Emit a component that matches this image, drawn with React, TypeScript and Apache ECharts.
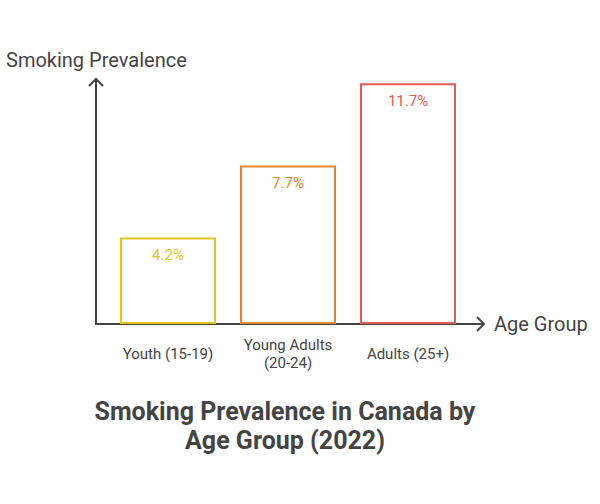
import React, { useEffect, useRef } from "react";
import * as echarts from "echarts";

const categories = ["Youth (15-19)", "Young Adults\n(20-24)", "Adults (25+)"];
const values = [4.2, 7.7, 11.7];
const colors = ["#E2C51C", "#E6862C", "#E45A55"];
const yMax = 12;
const titleText = "Smoking Prevalence in Canada by\nAge Group (2022)";
const yName = "Smoking Prevalence";
const xName = "Age Group";

export default function App() {
  const ref = useRef<HTMLDivElement>(null);
  useEffect(() => {
    document.body.style.margin = "0";
    const chart = echarts.init(ref.current!, null, { renderer: "svg" });
    const axisColor = "#444444";
    const font = "Roboto";
    chart.setOption({
      animation: false,
      textStyle: { fontFamily: font },
      grid: { left: 108, right: 132, top: 77, bottom: 180 },
      xAxis: {
        type: "category",
        data: categories,
        axisLine: { show: false },
        axisTick: { show: false },
        axisLabel: { color: axisColor, fontSize: 15, fontFamily: font, margin: 30, lineHeight: 18, verticalAlign: "middle" },
      },
      yAxis: {
        type: "value",
        min: 0,
        max: yMax,
        show: false,
      },
      series: [
        {
          type: "bar",
          barWidth: 96,
          data: values.map((v, i) => ({
            value: v,
            itemStyle: { color: "#ffffff", borderColor: colors[i], borderWidth: 2 },
            label: { color: colors[i] },
          })),
          label: {
            show: true,
            position: "insideTop",
            distance: 10,
            fontSize: 15,
            fontFamily: font,
            formatter: (p: any) => p.value + "%",
          },
        },
      ],
      graphic: [
        { type: "line", shape: { x1: 96, y1: 324, x2: 96, y2: 79 }, style: { stroke: axisColor, lineWidth: 2 } },
        { type: "polyline", shape: { points: [[89, 86], [96, 79], [103, 86]] }, style: { stroke: axisColor, lineWidth: 2, fill: null } },
        { type: "line", shape: { x1: 95, y1: 324, x2: 484, y2: 324 }, style: { stroke: axisColor, lineWidth: 2 } },
        { type: "polyline", shape: { points: [[477, 317], [484, 324], [477, 331]] }, style: { stroke: axisColor, lineWidth: 2, fill: null } },
        { type: "text", left: 6, top: 50, style: { text: yName, fontSize: 20, fontFamily: font, fill: axisColor } },
        { type: "text", left: 494, top: 314, style: { text: xName, fontSize: 20, fontFamily: font, fill: axisColor } },
        {
          type: "text",
          x: 285,
          y: 397,
          style: {
            text: titleText,
            fontSize: 25,
            fontWeight: "bold",
            fontFamily: font,
            fill: axisColor,
            align: "center",
            verticalAlign: "top",
            lineHeight: 29,
          },
        },
      ],
    });
    return () => chart.dispose();
  }, []);
  return <div ref={ref} style={{ width: 600, height: 504 }} />;
}
